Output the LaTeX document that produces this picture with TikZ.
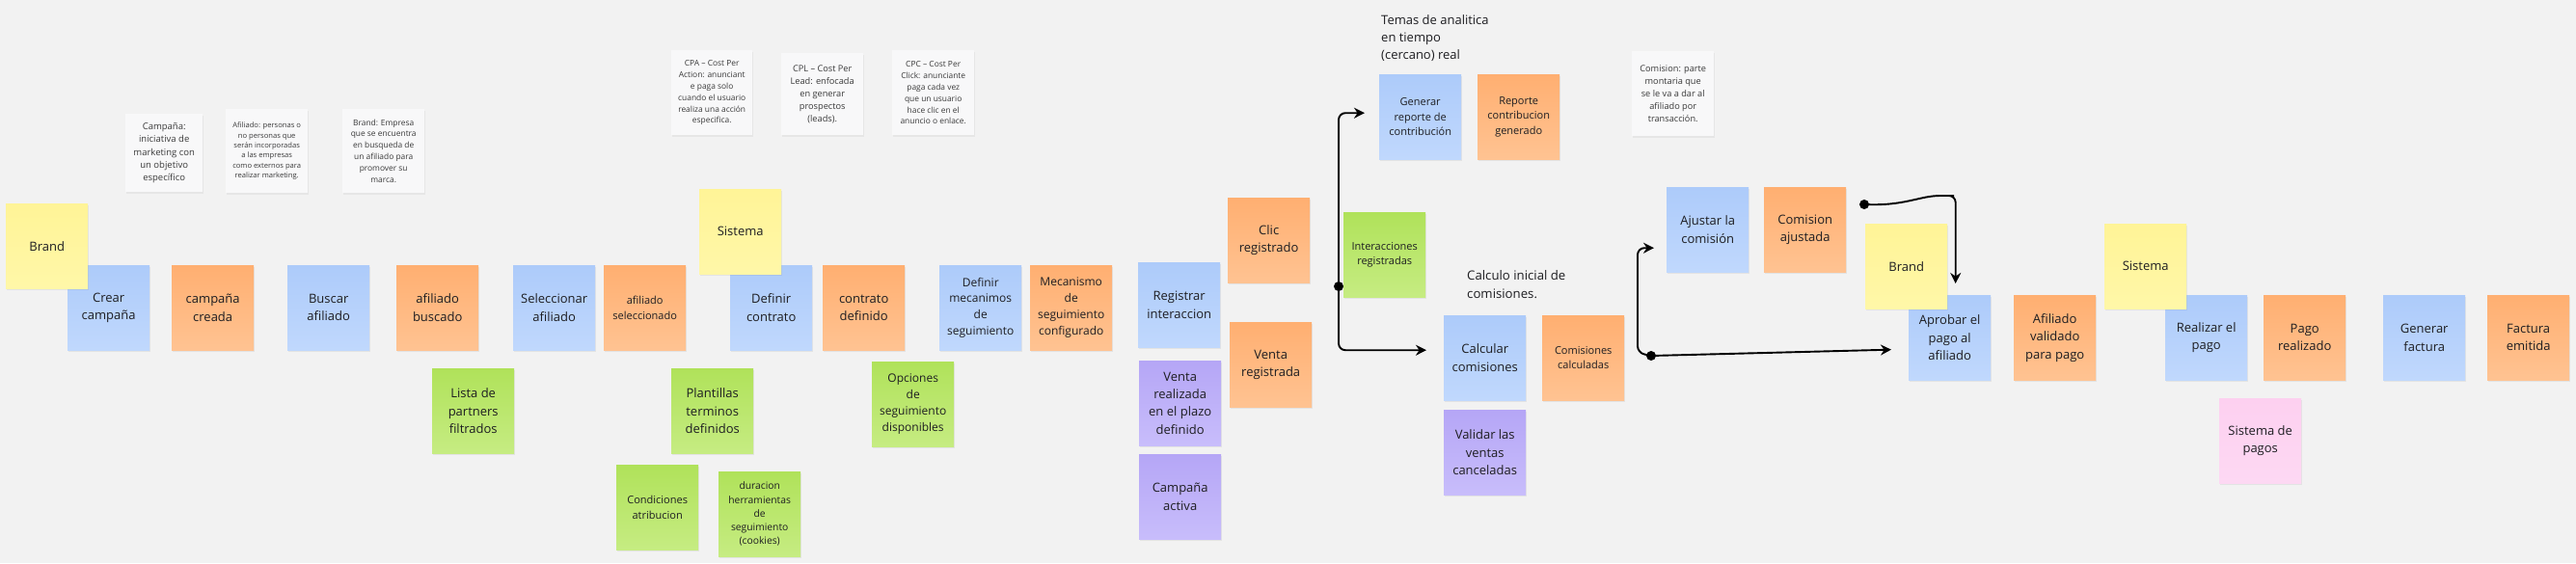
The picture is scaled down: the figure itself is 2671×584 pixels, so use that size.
\documentclass[tikz,border=0pt]{standalone}
\usepackage{fontspec}
\setmainfont{Open Sans}
\usetikzlibrary{arrows.meta,shadows,calc}
\definecolor{bg}{HTML}{F2F2F2}
\definecolor{txt}{HTML}{1E1E22}
\definecolor{ntxt}{HTML}{3A3A3A}
\definecolor{notef}{HTML}{F8F8F9}
\definecolor{bluT}{HTML}{ADCBFA}
\definecolor{bluB}{HTML}{C0D8FD}
\definecolor{orT}{HTML}{FFAF71}
\definecolor{orB}{HTML}{FFC392}
\definecolor{grT}{HTML}{B0E25A}
\definecolor{grB}{HTML}{C6EC82}
\definecolor{puT}{HTML}{B5A6F6}
\definecolor{puB}{HTML}{C8BDFB}
\definecolor{yeT}{HTML}{FFF497}
\definecolor{yeB}{HTML}{FFF7A8}
\definecolor{pkT}{HTML}{FDD0F0}
\definecolor{pkB}{HTML}{FDD8F3}
\tikzset{
  stk/.style={rectangle, anchor=north west, minimum width=85pt, minimum height=88pt,
    inner sep=0pt, align=center, text=txt,
    drop shadow={shadow xshift=0.6pt, shadow yshift=-2.2pt, opacity=0.13}},
  sblue/.style={stk, top color=bluT, bottom color=bluB},
  sorange/.style={stk, top color=orT, bottom color=orB},
  sgreen/.style={stk, top color=grT, bottom color=grB},
  spurple/.style={stk, top color=puT, bottom color=puB},
  syellow/.style={stk, top color=yeT, bottom color=yeB},
  spink/.style={stk, top color=pkT, bottom color=pkB},
  snote/.style={rectangle, anchor=north west, minimum width=85pt, minimum height=87pt,
    inner sep=0pt, align=center, text=ntxt, fill=notef,
    drop shadow={shadow xshift=0.5pt, shadow yshift=-1.8pt, opacity=0.10}},
  ftext/.style={anchor=north west, inner sep=0pt, align=left, text=txt},
  fA/.style={font=\fontsize{13pt}{18.4pt}\selectfont},
  fB/.style={font=\fontsize{12pt}{16.8pt}\selectfont},
  fC/.style={font=\fontsize{11pt}{15.4pt}\selectfont},
  fD/.style={font=\fontsize{10.3pt}{14.3pt}\selectfont},
  nA/.style={font=\fontsize{9.5pt}{13.2pt}\selectfont},
  nB/.style={font=\fontsize{9.2pt}{13pt}\selectfont},
  nC/.style={font=\fontsize{8.4pt}{11.9pt}\selectfont},
  nD/.style={font=\fontsize{7.6pt}{10.3pt}\selectfont},
  conn/.style={draw=black, line width=1.9pt, rounded corners=7pt, line cap=round,
    -{Stealth[length=11pt,width=11pt]}},
  dotc/.style={fill=black},
}
\begin{document}
\begin{tikzpicture}[x=1pt,y=-1pt]
\fill[bg] (0,0) rectangle (2671,584);
\useasboundingbox (0,0) rectangle (2671,584);

% ---------- notes ----------
\node[snote,nA,minimum width=80pt,minimum height=81pt] (campN) at (130,118) {Campaña:\\iniciativa de\\marketing con\\un objetivo\\específico};
\node[snote,nD] (afilN) at (234,113) {Afiliado: personas o\\no personas que\\serán incorporadas\\a las empresas\\como externos para\\realizar marketing.};
\node[snote,nC] (brandN) at (355,113) {Brand: Empresa\\que se encuentra\\en busqueda de\\un afiliado para\\promover su\\marca.};
\node[snote,nC,minimum width=84pt,minimum height=88pt] (cpaN) at (696,52) {CPA – Cost Per\\Action: anunciant\\e paga solo\\cuando el usuario\\realiza una acción\\especifica.};
\node[snote,nB,minimum height=85pt] (cplN) at (810,55) {CPL – Cost Per\\Lead: enfocada\\en generar\\prospectos\\(leads).};
\node[snote,nC,minimum height=88pt] (cpcN) at (925,52) {CPC – Cost Per\\Click: anunciante\\paga cada vez\\que un usuario\\hace clic en el\\anuncio o enlace.};
\node[snote,nB,minimum height=88pt] (comN) at (1692,53) {Comision: parte\\montaria que\\se le va a dar al\\afiliado por\\transacción.};

% ---------- blue (commands) ----------
\node[sblue,fA] (crear) at (70,275) {Crear\\campaña};
\node[sblue,fA] (buscar) at (298,275) {Buscar\\afiliado};
\node[sblue,fA] (selec) at (532,275) {Seleccionar\\afiliado};
\node[sblue,fA] (defcon) at (757,275) {Definir\\contrato};
\node[sblue,fB] (defmec) at (974,275) {Definir\\mecanimos\\de\\seguimiento};
\node[sblue,fA] (regint) at (1180,272) {Registrar\\interaccion};
\node[sblue,fC] (genrep) at (1430,77) {Generar\\reporte de\\contribución};
\node[sblue,fA] (calc) at (1497,327) {Calcular\\comisiones};
\node[sblue,fA] (ajus) at (1728,194) {Ajustar la\\comisión};
\node[sblue,fA] (aprob) at (1979,306) {Aprobar el\\pago al\\afiliado};
\node[sblue,fA] (realiz) at (2245,306) {Realizar el\\pago};
\node[sblue,fA] (genfac) at (2471,306) {Generar\\factura};

% ---------- orange (events) ----------
\node[sorange,fA] (camcre) at (178,275) {campaña\\creada};
\node[sorange,fA] (afibus) at (411,275) {afiliado\\buscado};
\node[sorange,fC] (afisel) at (626,275) {afiliado\\seleccionado};
\node[sorange,fA] (condef) at (853,275) {contrato\\definido};
\node[sorange,fB] (mecconf) at (1068,275) {Mecanismo\\de\\seguimiento\\configurado};
\node[sorange,fA] (clic) at (1273,205) {Clic\\registrado};
\node[sorange,fA] (ventreg) at (1275,334) {Venta\\registrada};
\node[sorange,fC] (repgen) at (1532,77) {Reporte\\contribucion\\generado};
\node[sorange,fC] (comcalc) at (1599,327) {Comisiones\\calculadas};
\node[sorange,fA] (comaj) at (1829,194) {Comision\\ajustada};
\node[sorange,fA] (afival) at (2088,306) {Afiliado\\validado\\para pago};
\node[sorange,fA] (pagreal) at (2347,306) {Pago\\realizado};
\node[sorange,fA] (facemi) at (2579,306) {Factura\\emitida};

% ---------- green (read models) ----------
\node[sgreen,fA] (lista) at (448,382) {Lista de\\partners\\filtrados};
\node[sgreen,fA] (plant) at (696,382) {Plantillas\\terminos\\definidos};
\node[sgreen,fC] (condat) at (639,482) {Condiciones\\atribucion};
\node[sgreen,fD] (durac) at (745,489) {duracion\\herramientas\\de\\seguimiento\\(cookies)};
\node[sgreen,fB] (opc) at (904,375) {Opciones\\de\\seguimiento\\disponibles};
\node[sgreen,fC] (inter) at (1393,220) {Interacciones\\registradas};

% ---------- purple (policies) ----------
\node[spurple,fA] (ventre) at (1181,374) {Venta\\realizada\\en el plazo\\definido};
\node[spurple,fA] (camact) at (1181,471) {Campaña\\activa};
\node[spurple,fA] (valid) at (1497,425) {Validar las\\ventas\\canceladas};

% ---------- pink (external system) ----------
\node[spink,fA] (sispag) at (2301,413) {Sistema de\\pagos};

% ---------- yellow (actors) ----------
\node[syellow,fA] (brand1) at (6,211) {Brand};
\node[syellow,fA] (sis1) at (725,196) {Sistema};
\node[syellow,fA] (brand2) at (1934,232) {Brand};
\node[syellow,fA] (sis2) at (2182,232) {Sistema};

% ---------- free texts ----------
\node[ftext,fA] (temas) at (1432,15) {Temas de analitica\\en tiempo\\(cercano) real};
\node[ftext,font=\fontsize{13.2pt}{19pt}\selectfont] (calcini) at (1521,280) {Calculo inicial de\\comisiones.};

% ---------- connectors ----------
\coordinate (d1) at (1388,297);
\coordinate (d2) at (1712,369);
\coordinate (d3) at (1933,212);
\draw[conn, shorten >=15pt] (d1) |- ([yshift=4pt]genrep.west);
\draw[conn, shorten >=18pt] (d1) |- ([yshift=8pt]calc.west);
\draw[conn, shorten >=13pt] (d2) -- ++(-14,-3) |- ([yshift=-19pt]ajus.west);
\draw[conn, shorten >=18pt] (d2) -- ([yshift=-12pt]aprob.west);
\draw[conn, shorten >=12pt] (d3) .. controls (1975,214) and (1990,203) .. (2019,203) -| ([xshift=6pt]aprob.north);
\fill[dotc] (d1) circle (5pt);
\fill[dotc] (d2) circle (5pt);
\fill[dotc] (d3) circle (5pt);
\end{tikzpicture}
\end{document}
